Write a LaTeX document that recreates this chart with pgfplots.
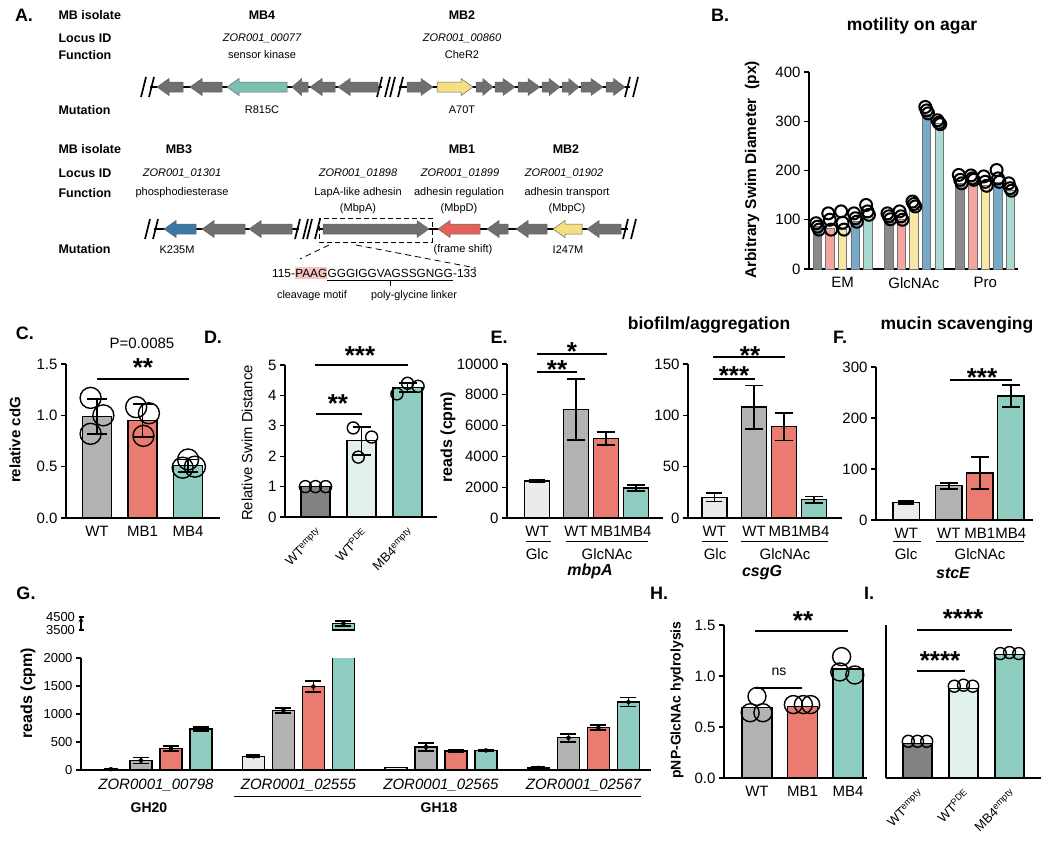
\documentclass[border=0pt]{standalone}
\usepackage{pgfplots}
\pgfplotsset{compat=1.18}
\usepackage{fontspec}
\setmainfont{Liberation Sans}

\newcommand{\fs}[1]{\fontsize{#1}{#1}\selectfont}
% significance stars, centred on (x,y) in pixel coords
\newcommand{\sig}[3]{\node[anchor=base, inner sep=0, font=\fs{26}\bfseries] at (#1,#2+14.5) {#3};}
% gene arrows: x1 x2 y colour
\newcommand{\gR}[4]{\pgfmathsetmacro{\hl}{min(12,0.6*(#2-#1))}%
  \filldraw[fill=#4, draw=black!60, line width=0.5pt] (#1,#3-5) -- ({#2-\hl},#3-5) -- ({#2-\hl},#3-8.5) -- (#2,#3) -- ({#2-\hl},#3+8.5) -- ({#2-\hl},#3+5) -- (#1,#3+5) -- cycle;}
\newcommand{\gL}[4]{\pgfmathsetmacro{\hl}{min(12,0.6*(#2-#1))}%
  \filldraw[fill=#4, draw=black!60, line width=0.5pt] (#2,#3-5) -- ({#1+\hl},#3-5) -- ({#1+\hl},#3-8.5) -- (#1,#3) -- ({#1+\hl},#3+8.5) -- ({#1+\hl},#3+5) -- (#2,#3+5) -- cycle;}
\newcommand{\brk}[2]{\draw[line width=1.7pt] (#1-7,#2+10) -- (#1-2,#2-10) (#1+1,#2+10) -- (#1+6,#2-10);}

\definecolor{gG}{HTML}{6F6F6F}
\definecolor{tealG}{HTML}{7DBFB1}
\definecolor{yelG}{HTML}{F5DF82}
\definecolor{blueG}{HTML}{3C78A4}
\definecolor{redG}{HTML}{E2625A}
\definecolor{pinkHL}{HTML}{F4C4C1}

\definecolor{cLight}{HTML}{EBEBEB}
\definecolor{cGrey}{HTML}{B2B2B0}
\definecolor{cDark}{HTML}{828282}
\definecolor{cRed}{HTML}{EA7B71}
\definecolor{cTeal}{HTML}{8FCDC0}
\definecolor{cMint}{HTML}{E2F1ED}

\definecolor{bGrey}{HTML}{8A8A8A}
\definecolor{bPink}{HTML}{F3A59E}
\definecolor{bYel}{HTML}{F7E8A4}
\definecolor{bBlue}{HTML}{77A9C9}
\definecolor{bMint}{HTML}{A9DBD1}

\pgfplotsset{
  panel/.style={
    scale only axis, anchor=south west,
    axis lines=left, axis line style={-, line width=1.3pt},
    clip=false,
    tick align=outside, major tick length=5pt,
    ytick style={line width=1.2pt, black},
    xtick style={draw=none},
    ticklabel style={font=\fs{15}},
    /pgf/number format/assume math mode=true,
    /pgf/number format/1000 sep={},
    scaled y ticks=false,
  },
  cbar/.style={ybar, bar width=#1, bar shift=0pt, draw=black, line width=1.3pt},
  gbar/.style={ybar, bar width=22pt, bar shift=#1, draw=black, line width=1.3pt},
  pts/.style={only marks, mark=o, mark size=#1, black, mark options={line width=1.4pt}},
  ebar/.style={error bars/.cd, y dir=both, y explicit,
    error bar style={black, line width=1.8pt},
    error mark options={rotate=90, mark size=#1, line width=1.8pt, black}},
}

\begin{document}
\begin{tikzpicture}
\path[use as bounding box] (0,0) rectangle (1050pt,-841pt);

% ---------------- B: motility on agar
\begin{axis}[panel, at={(809pt,-269pt)}, width=209pt, height=197pt,
  xmin=0.53, xmax=3.46, ymin=0, ymax=400, ytick={0,100,...,400},
  xtick={1,2,3}, xticklabels={EM,GlcNAc,Pro}]
\addplot[ybar, bar width=8.5pt, bar shift=-25.2pt, fill=bGrey, draw=black!55, line width=0.6pt] coordinates {(1,86) (2,101) (3,174)};
\addplot[ybar, bar width=8.5pt, bar shift=-12.6pt, fill=bPink, draw=black!55, line width=0.6pt] coordinates {(1,82) (2,100) (3,181)};
\addplot[ybar, bar width=8.5pt, bar shift=0pt, fill=bYel, draw=black!55, line width=0.6pt] coordinates {(1,80) (2,125) (3,170)};
\addplot[ybar, bar width=8.5pt, bar shift=12.6pt, fill=bBlue, draw=black!55, line width=0.6pt] coordinates {(1,96) (2,314) (3,177)};
\addplot[ybar, bar width=8.5pt, bar shift=25.2pt, fill=bMint, draw=black!55, line width=0.6pt] coordinates {(1,108) (2,295) (3,160)};
\addplot[pts=6, mark options={line width=2pt}] coordinates {
  (0.63,93) (0.65,86) (0.67,80) (1.63,113) (1.65,107) (1.67,101) (2.63,191) (2.65,181) (2.67,174)
  (0.80,113) (0.82,100) (0.84,80) (1.80,117) (1.82,107) (1.84,100) (2.80,190) (2.82,184) (2.84,181)
  (0.98,117) (1.00,94) (1.02,80) (1.98,137) (2.00,132) (2.02,127) (2.98,188) (3.00,177) (3.02,169)
  (1.16,113) (1.18,103) (1.20,96) (2.16,329) (2.18,322) (2.20,316) (3.16,201) (3.18,184) (3.20,177)
  (1.33,130) (1.35,117) (1.37,110) (2.33,302) (2.35,297) (2.37,294) (3.33,174) (3.35,164) (3.37,159)};
\end{axis}

% ---------------- C: relative cdG
\begin{axis}[panel, at={(66pt,-518pt)}, width=154pt, height=154pt,
  xmin=0.32, xmax=3.70, ymin=0, ymax=1.5, ytick={0,0.5,1,1.5},
  yticklabel style={/pgf/number format/.cd, fixed, fixed zerofill, precision=1},
  xtick={1,2,3}, xticklabels={WT,MB1,MB4}]
\addplot[cbar=29pt, fill=cGrey, ebar=10pt] coordinates {(1,0.99) +- (0,0.17)};
\addplot[cbar=29pt, fill=cRed, ebar=10pt] coordinates {(2,0.95) +- (0,0.16)};
\addplot[cbar=29pt, fill=cTeal, ebar=10pt] coordinates {(3,0.51) +- (0,0.06)};
\addplot[pts=10.5] coordinates {(0.86,1.17) (1.14,1.00) (0.86,0.82)
  (1.86,1.08) (2.14,1.02) (2.02,0.80) (3.00,0.57) (2.88,0.49) (3.15,0.50)};
\end{axis}

% ---------------- D: relative swim distance
\begin{axis}[panel, at={(285pt,-517pt)}, width=152pt, height=152pt,
  xmin=0.337, xmax=3.641, ymin=0, ymax=5, ytick={0,1,...,5},
  xtick={1,2,3}, xticklabels={WT\textsuperscript{empty},WT\textsuperscript{PDE},MB4\textsuperscript{empty}},
  xticklabel style={rotate=45, anchor=north east, font=\fs{13}}]
\addplot[cbar=29pt, fill=cDark] coordinates {(1,1.0)};
\addplot[cbar=29pt, fill=cMint, ebar=9pt] coordinates {(2,2.51) +- (0,0.46)};
\addplot[cbar=29pt, fill=cTeal, ebar=9pt] coordinates {(3,4.25) +- (0,0.15)};
\addplot[pts=6] coordinates {(0.78,1) (1,1) (1.22,1)
  (1.82,2.93) (1.93,1.97) (2.22,2.63) (2.77,4.05) (3.0,4.40) (3.23,4.30)};
\end{axis}

% ---------------- E: mbpA
\begin{axis}[panel, at={(507pt,-518pt)}, width=156pt, height=154pt,
  xmin=0, xmax=5.2, ymin=0, ymax=10000, ytick={0,2000,...,10000},
  xtick={1,2.3,3.3,4.3}, xticklabels={WT,WT,MB1,MB4}]
\addplot[cbar=25pt, fill=cLight, ebar=8pt] coordinates {(1,2400) +- (0,100)};
\addplot[cbar=25pt, fill=cGrey, ebar=9pt] coordinates {(2.3,7050) +- (0,2000)};
\addplot[cbar=25pt, fill=cRed, ebar=9pt] coordinates {(3.3,5150) +- (0,420)};
\addplot[cbar=25pt, fill=cTeal, ebar=9pt] coordinates {(4.3,1950) +- (0,200)};
\end{axis}

% ---------------- E: csgG
\begin{axis}[panel, at={(688pt,-518pt)}, width=154pt, height=154pt,
  xmin=0, xmax=5.133, ymin=0, ymax=150, ytick={0,50,100,150},
  xtick={0.88,2.2,3.2,4.2}, xticklabels={WT,WT,MB1,MB4}]
\addplot[cbar=25pt, fill=cLight, ebar=8pt] coordinates {(0.88,20) +- (0,4)};
\addplot[cbar=25pt, fill=cGrey, ebar=9pt] coordinates {(2.2,108) +- (0,21)};
\addplot[cbar=25pt, fill=cRed, ebar=9pt] coordinates {(3.2,89) +- (0,13.5)};
\addplot[cbar=25pt, fill=cTeal, ebar=9pt] coordinates {(4.2,18) +- (0,3)};
\end{axis}

% ---------------- F: stcE
\begin{axis}[panel, at={(876pt,-520pt)}, width=157pt, height=153pt,
  xmin=0, xmax=5.065, ymin=0, ymax=300, ytick={0,100,200,300},
  xtick={0.98,2.35,3.35,4.35}, xticklabels={WT,WT,MB1,MB4}]
\addplot[cbar=26.5pt, fill=cLight, ebar=8pt] coordinates {(0.98,34) +- (0,3)};
\addplot[cbar=26.5pt, fill=cGrey, ebar=9pt] coordinates {(2.35,67) +- (0,5.5)};
\addplot[cbar=26.5pt, fill=cRed, ebar=9pt] coordinates {(3.35,92) +- (0,31)};
\addplot[cbar=26.5pt, fill=cTeal, ebar=9pt] coordinates {(4.35,243) +- (0,21.5)};
\end{axis}

% ---------------- G: glycoside hydrolases, broken axis
% bars sit at group +- 15pt / 45pt; one group = 142.5pt
\begin{axis}[panel, at={(81pt,-770pt)}, width=570pt, height=112pt, clip=true,
  xmin=0.474, xmax=4.474, ymin=0, ymax=2000, ytick={0,500,...,2000},
  yticklabel style={font=\fs{13}},
  xtick={1,2,3,4}, xticklabels={ZOR0001\_00798,ZOR0001\_02555,ZOR0001\_02565,ZOR0001\_02567},
  xticklabel style={font=\fs{15}\itshape}]
\addplot[gbar=-45pt, fill=cLight] coordinates {(1,15) (2,245) (3,40) (4,38)};
\addplot[gbar=-15pt, fill=cGrey] coordinates {(1,170) (2,1065) (3,410) (4,575)};
\addplot[gbar=15pt, fill=cRed] coordinates {(1,385) (2,1490) (3,340) (4,755)};
\addplot[gbar=45pt, fill=cTeal] coordinates {(1,730) (2,4000) (3,350) (4,1215)};
\addplot[only marks, mark=none, ebar=7pt] coordinates {
  (0.684,15) +- (0,5) (1.684,245) +- (0,18) (3.684,38) +- (0,25)};
\addplot[only marks, mark=none, ebar=8pt] coordinates {
  (0.895,170) +- (0,55) (1.895,1065) +- (0,45) (2.895,410) +- (0,70) (3.895,575) +- (0,75)
  (1.105,385) +- (0,50) (2.105,1490) +- (0,100) (3.105,340) +- (0,22) (4.105,755) +- (0,45)
  (1.316,730) +- (0,35) (3.316,350) +- (0,18) (4.316,1215) +- (0,80)};
\end{axis}
\begin{axis}[panel, at={(81pt,-630pt)}, width=570pt, height=13pt, clip=true,
  axis x line=none, axis y line=left,
  xmin=0.474, xmax=4.474, ymin=3500, ymax=4500, ytick={3500,4500},
  yticklabel style={font=\fs{13}}, xtick=\empty]
\addplot[gbar=45pt, fill=cTeal] coordinates {(2,4000)};
\addplot[only marks, mark=none, ebar=8pt] coordinates {(2.316,4000) +- (0,200)};
\end{axis}

% ---------------- H: pNP-GlcNAc hydrolysis
\begin{axis}[panel, at={(724pt,-778pt)}, width=143pt, height=153pt,
  xmin=0.275, xmax=3.418, ymin=0, ymax=1.5, ytick={0,0.5,1,1.5},
  yticklabel style={/pgf/number format/.cd, fixed, fixed zerofill, precision=1},
  xtick={1,2,3}, xticklabels={WT,MB1,MB4}]
\addplot[cbar=30pt, fill=cGrey] coordinates {(1,0.69)};
\addplot[cbar=30pt, fill=cRed] coordinates {(2,0.70)};
\addplot[cbar=30pt, fill=cTeal] coordinates {(3,1.07)};
\addplot[pts=9] coordinates {(1,0.80) (0.85,0.64) (1.13,0.64)
  (1.8,0.72) (2.02,0.72) (2.18,0.72) (2.86,1.19) (2.82,1.04) (3.15,1.01)};
\end{axis}

% ---------------- I
\begin{axis}[panel, at={(886pt,-778pt)}, width=155pt, height=153pt,
  xmin=0.315, xmax=3.685, ymin=0, ymax=1.5, ytick=\empty,
  xtick={1,2,3}, xticklabels={WT\textsuperscript{empty},WT\textsuperscript{PDE},MB4\textsuperscript{empty}},
  xticklabel style={rotate=45, anchor=north east, font=\fs{13}}]
\addplot[cbar=29pt, fill=cDark] coordinates {(1,0.34)};
\addplot[cbar=29pt, fill=cMint] coordinates {(2,0.88)};
\addplot[cbar=29pt, fill=cTeal] coordinates {(3,1.21)};
\addplot[pts=6] coordinates {(0.8,0.36) (1,0.36) (1.2,0.36)
  (1.8,0.90) (2,0.91) (2.2,0.90) (2.8,1.22) (3,1.23) (3.2,1.22)};
\end{axis}

% ---------------- annotations, pixel coordinates (y downwards)
\begin{scope}[x=1pt, y=-1pt]
% panel A
\node[font=\fs{18}\bfseries] at (24,15) {A.};
\foreach \yy/\tt in {15/MB isolate, 38/Locus ID, 55/Function, 110/Mutation,
                     149/MB isolate, 173/Locus ID, 193/Function, 249/Mutation}
  \node[anchor=west, font=\fs{12.5}\bfseries] at (55,\yy) {\tt};
\node[font=\fs{12.5}\bfseries] at (262,15) {MB4};
\node[font=\fs{12.5}\bfseries] at (462,15) {MB2};
\node[font=\fs{11}\itshape] at (262,38) {ZOR001\_00077};
\node[font=\fs{11}\itshape] at (462,38) {ZOR001\_00860};
\node[font=\fs{11}] at (262,55) {sensor kinase};
\node[font=\fs{11}] at (462,55) {CheR2};
\node[font=\fs{11}] at (262,110) {R815C};
\node[font=\fs{11}] at (462,110) {A70T};

\draw[line width=1.3pt] (150,87) -- (382,87) (399,87) -- (630,87);
\brk{148}{87} \brk{384}{87} \brk{397}{87} \brk{632}{87}
\gL{157}{183}{87}{gG} \gL{190}{222}{87}{gG} \gL{227}{287}{87}{tealG}
\gL{292}{308}{87}{gG} \gL{310}{335}{87}{gG} \gL{338}{378}{87}{gG}
\gR{407}{433}{87}{gG} \gR{437}{473}{87}{yelG} \gR{476}{493}{87}{gG}
\gR{495}{515}{87}{gG} \gR{518}{540}{87}{gG} \gR{542}{560}{87}{gG}
\gR{562}{579}{87}{gG} \gR{581}{603}{87}{gG} \gR{606}{625}{87}{gG}

\node[font=\fs{12.5}\bfseries] at (179,149) {MB3};
\node[font=\fs{12.5}\bfseries] at (462,149) {MB1};
\node[font=\fs{12.5}\bfseries] at (566,149) {MB2};
\node[font=\fs{11}\itshape] at (182,173) {ZOR001\_01301};
\node[font=\fs{11}\itshape] at (358,173) {ZOR001\_01898};
\node[font=\fs{11}\itshape] at (460,173) {ZOR001\_01899};
\node[font=\fs{11}\itshape] at (564,173) {ZOR001\_01902};
\node[font=\fs{11}] at (182,193) {phosphodiesterase};
\node[font=\fs{11}] at (358,193) {LapA-like adhesin};
\node[font=\fs{11}] at (459,193) {adhesin regulation};
\node[font=\fs{11}] at (567,193) {adhesin transport};
\node[font=\fs{11}] at (358,209) {(MbpA)};
\node[font=\fs{11}] at (459,209) {(MbpD)};
\node[font=\fs{11}] at (567,209) {(MbpC)};
\node[font=\fs{11}] at (177,250) {K235M};
\node[font=\fs{11}] at (463,250) {(frame shift)};
\node[font=\fs{11}] at (568,250) {I247M};

\draw[line width=1.3pt] (154,229) -- (299,229) (317,229) -- (628,229);
\brk{152}{229} \brk{302}{229} \brk{314}{229} \brk{630}{229}
\gL{164}{196}{229}{blueG} \gL{202}{245}{229}{gG} \gL{249}{292}{229}{gG}
\gR{323}{429}{229}{gG} \gL{438}{480}{229}{redG} \gL{487}{508}{229}{gG}
\gL{516}{547}{229}{gG} \gL{553}{582}{229}{yelG} \gL{587}{621}{229}{gG}
\draw[line width=0.8pt, dash pattern=on 5pt off 3pt] (319,218) rectangle (432,242);
\draw[line width=0.8pt, dash pattern=on 6pt off 4pt] (329,245) -- (300,259) (356,245) -- (476,268);

\node[anchor=base west, inner sep=0, font=\fs{11.8}] (s1) at (272,277) {115-};
\node[anchor=base west, inner xsep=0, inner ysep=1.5pt, fill=pinkHL, font=\fs{11.8}] (s2) at (s1.base east) {PAAG};
\node[anchor=base west, inner sep=0, font=\fs{11.8}] (s3) at (s2.base east) {GGGIGGVAGSSGNGG};
\node[anchor=base west, inner sep=0, font=\fs{11.8}] (s4) at (s3.base east) {-133};
\draw[line width=0.8pt] ([yshift=-3pt]s3.south west) -- ([yshift=-3pt]s3.south east);
\draw[line width=0.8pt] ([yshift=-3pt]s3.south) -- ([yshift=-9pt]s3.south);
\node[font=\fs{10.8}] at (312,296) {cleavage motif};
\node[font=\fs{10.8}] at (414,296) {poly-glycine linker};

% panel B
\node[font=\fs{18}\bfseries] at (720,15) {B.};
\node[font=\fs{17.5}\bfseries] at (912,26) {motility on agar};
\node[rotate=90, font=\fs{15.5}\bfseries] at (752,170) {Arbitrary Swim Diameter\ \ (px)};

% panel C
\node[font=\fs{18}\bfseries] at (25,333) {C.};
\node[rotate=90, font=\fs{15}\bfseries] at (15,440) {relative cdG};
\node[font=\fs{15}] at (142,343) {P=0.0085};
\sig{143}{362}{**}
\draw[line width=1.2pt] (97,379) -- (189,379);

% panel D
\node[font=\fs{18}\bfseries] at (213,337) {D.};
\node[rotate=90, font=\fs{14.8}] at (247,443) {Relative Swim Distance};
\sig{360}{350}{***}
\draw[line width=1.2pt] (315,365) -- (408,365);
\sig{338}{398}{**}
\draw[line width=1.2pt] (316,414) -- (362,414);

% panel E
\node[font=\fs{18}\bfseries] at (499,337) {E.};
\node[font=\fs{17.5}\bfseries] at (709,325) {biofilm/aggregation};
\node[rotate=90, font=\fs{16}\bfseries] at (448,437) {reads (cpm)};
\sig{572}{346}{*}
\draw[line width=1.2pt] (537,354) -- (607,354);
\sig{557}{364}{**}
\draw[line width=1.2pt] (537,372) -- (577,372);
\sig{750}{350}{**}
\draw[line width=1.2pt] (713,357) -- (785,357);
\sig{734}{370}{***}
\draw[line width=1.2pt] (713,379) -- (755,379);
\foreach \a/\b/\c/\d/\e/\g in {526/551/537/566/648/607, 702/728/715/741/828/785, 893/921/906/936/1024/980} {
  \draw[line width=1pt] (\a,541) -- (\b,541);
  \draw[line width=1pt] (\d,541) -- (\e,541);
  \node[font=\fs{15}] at (\c,554) {Glc};
  \node[font=\fs{15}] at (\g,554) {GlcNAc};
}
\node[font=\fs{16}\bfseries\itshape] at (590,571) {mbpA};
\node[font=\fs{16}\bfseries\itshape] at (762,573) {csgG};
\node[font=\fs{16}\bfseries\itshape] at (953,573) {stcE};

% panel F
\node[font=\fs{18}\bfseries] at (840,337) {F.};
\node[font=\fs{17.5}\bfseries] at (957,325) {mucin scavenging};
\sig{982}{372}{***}
\draw[line width=1.2pt] (950,380) -- (1012,380);

% panel G
\node[font=\fs{18}\bfseries] at (26,593) {G.};
\node[rotate=90, font=\fs{16}\bfseries] at (28,693) {reads (cpm)};
\draw[line width=1pt] (234,796) -- (641,796);
\node[font=\fs{14}\bfseries] at (149,808) {GH20};
\node[font=\fs{14}\bfseries] at (439,808) {GH18};

% panel H
\node[font=\fs{18}\bfseries] at (659,593) {H.};
\node[rotate=90, font=\fs{14}\bfseries] at (677,700) {pNP-GlcNAc hydrolysis};
\sig{803}{615}{**}
\draw[line width=1.2pt] (755,631) -- (848,631);
\node[font=\fs{14}] at (779,672) {ns};
\draw[line width=1.2pt] (755,688) -- (802,688);

% panel I
\node[font=\fs{18}\bfseries] at (869,593) {I.};
\sig{963}{613}{****}
\draw[line width=1.2pt] (917,630) -- (1012,630);
\sig{940}{655}{****}
\draw[line width=1.2pt] (917,671) -- (965,671);
\end{scope}
\end{tikzpicture}
\end{document}
